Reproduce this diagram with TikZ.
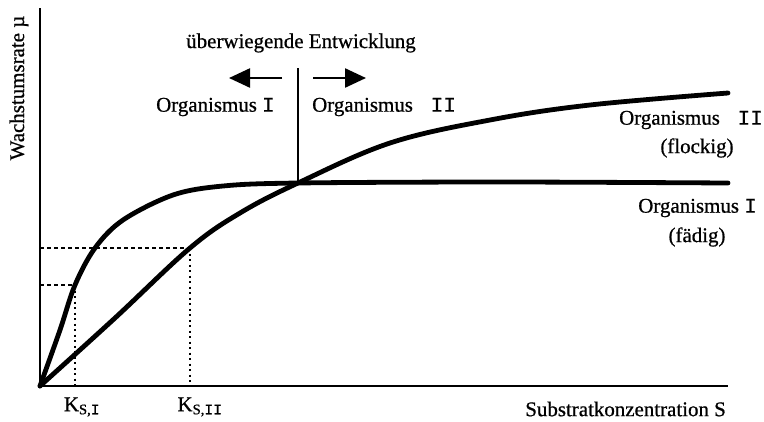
\documentclass[tikz,border=0pt]{standalone}
\usepackage{fontspec}
\setmainfont[FakeBold=0.7]{Liberation Serif}
\newfontfamily\romfont[FakeBold=0.5]{Liberation Mono}
\usetikzlibrary{arrows.meta}
\begin{document}
\begin{tikzpicture}[x=1bp,y=-1bp,
  lbl/.style={inner sep=0pt,font=\fontsize{21}{23}\selectfont},
  axis/.style={line width=2.4bp},
  curve/.style={line width=4.8bp,line cap=round,line join=round},
  helper/.style={line width=1.1bp,dash pattern=on 3.5bp off 3.5bp},
  dirarrow/.style={line width=2.4bp,-{Triangle[length=21bp,width=19bp]}}]
\useasboundingbox (0,0) rectangle (764,421);
% axes
\coordinate (O) at (40,386);
\coordinate (ytop) at (40,8);
\coordinate (xend) at (728,386);
\draw[axis] (ytop) -- (O) -- (xend);
% helper lines
\coordinate (k1) at (75,285);
\coordinate (k2) at (190,248);
\draw[helper] (40,285) -- (k1);
\draw[helper] (40,248) -- (k2);
\draw[helper,line width=1.4bp,dash pattern=on 2bp off 3.5bp] (k1) -- (75,386);
\draw[helper,line width=1.4bp,dash pattern=on 2bp off 3.5bp] (k2) -- (190,386);
% curves
\draw[curve] plot[smooth,tension=0.55] coordinates {(40,386) (60,330) (75,285) (95,248) (123,220) (173,195) (223,186) (298,183) (500,182) (728,183)};
\draw[curve] plot[smooth,tension=0.6] coordinates {(40,386) (115,318) (190,248) (240,213) (298,183) (390,143) (490,120) (590,105) (728,93)};
% divider
\coordinate (dtop) at (298,68);
\coordinate (dbot) at (298,183);
\draw[line width=1.6bp] (dtop) -- (dbot);
\coordinate (la) at (282,78);
\coordinate (lb) at (229,78);
\coordinate (ra) at (313,78);
\coordinate (rb) at (366,78);
\draw[dirarrow] (la) -- (lb);
\draw[dirarrow] (ra) -- (rb);
% labels
\node[lbl] (title) at (301,43) {überwiegende Entwicklung};
\node[lbl,anchor=west] (o1) at (156,107) {Organismus {\romfont I}};
\node[lbl,anchor=west] (o2) at (312,107) {Organismus {\romfont\ II}};
\node[lbl,anchor=east] (r2) at (763,120) {Organismus {\romfont\ II}};
\node[lbl] (r2b) at (697,148) {(flockig)};
\node[lbl,anchor=east] (r1) at (757,208) {Organismus {\romfont I}};
\node[lbl] (r1b) at (697,237) {(fädig)};
\node[lbl] (ks1) at (82,407) {K\textsubscript{S,{\romfont I}}};
\node[lbl] (ks2) at (200,407) {K\textsubscript{S,{\romfont II}}};
\node[lbl,anchor=east] (xl) at (726,409) {Substratkonzentration S};
\node[lbl,rotate=90] (yl) at (19,88) {Wachstumsrate µ};
\end{tikzpicture}
\end{document}
